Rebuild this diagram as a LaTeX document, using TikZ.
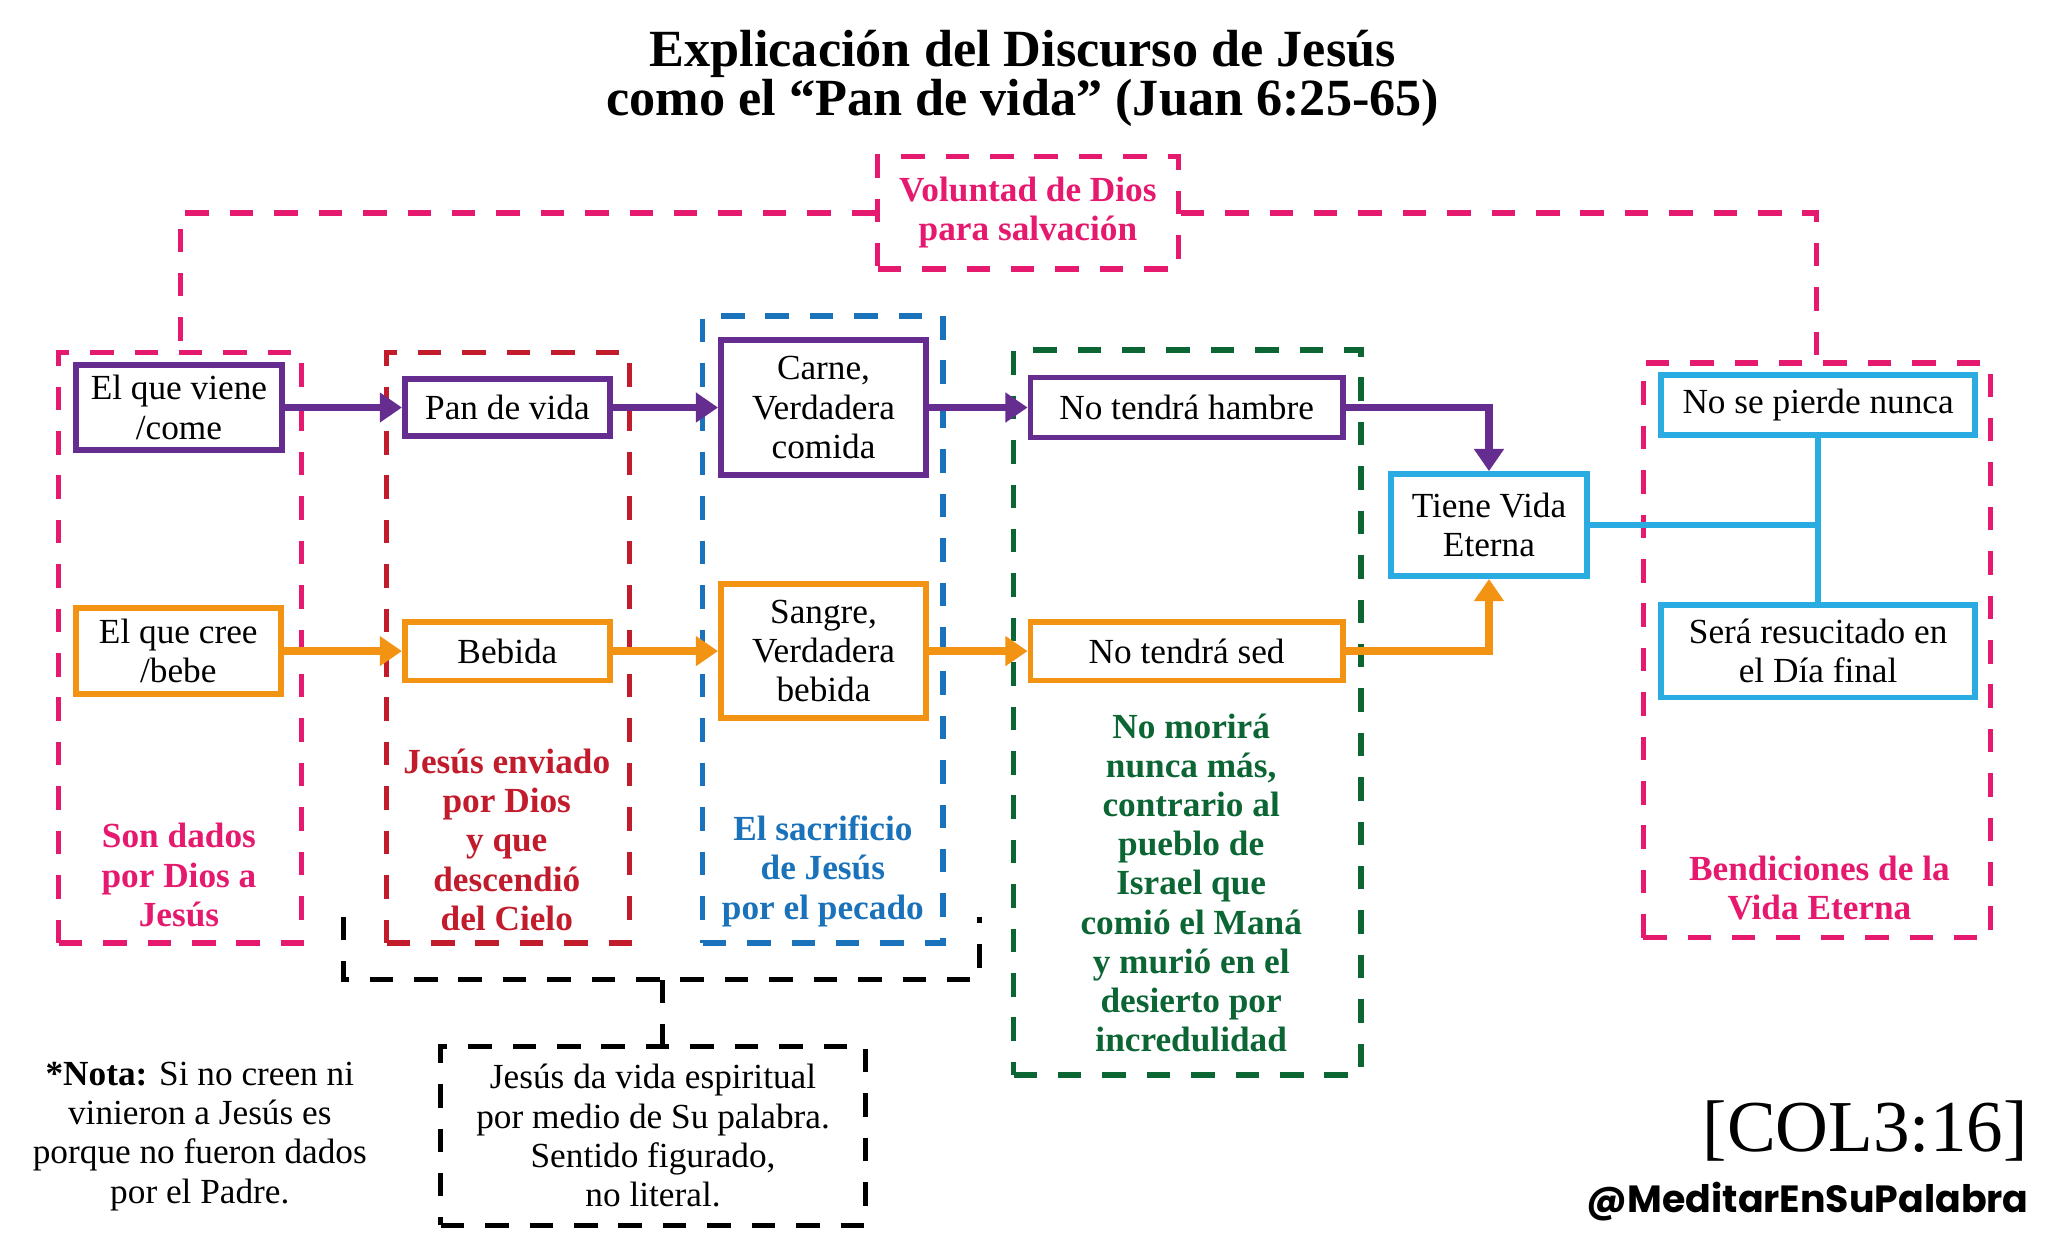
\documentclass[tikz,border=0pt]{standalone}
\usepackage{fontspec}
\setmainfont{Liberation Serif}
\newfontfamily\handlefont{Poppins}
\usetikzlibrary{arrows.meta}
\definecolor{cpink}{HTML}{E5196E}
\definecolor{cred}{HTML}{C11B2C}
\definecolor{cblue}{HTML}{1A72BA}
\definecolor{cgreen}{HTML}{0B6634}
\definecolor{cpurple}{HTML}{662D91}
\definecolor{corange}{HTML}{F39314}
\definecolor{csky}{HTML}{2AACE2}
\tikzset{
  box/.style={draw=#1, line width=4.5pt, fill=white, text=black, inner sep=0pt, align=center,
    font=\fontsize{27}{30}\selectfont},
  grp/.style={draw=#1, line width=4pt, dash pattern=on 18pt off 16pt, inner sep=0pt},
  dline/.style={line width=4pt, dash pattern=on 18pt off 16pt},
  lbl/.style={align=center, inner sep=0pt, font=\fontsize{27}{30}\selectfont\bfseries},
  txt/.style={align=center, inner sep=0pt, font=\fontsize{27}{30}\selectfont},
  arr/.style={line width=6pt, -{Triangle[length=17pt,width=22pt]}},
  link/.style={line width=4.5pt, csky}
}
\begin{document}
\begin{tikzpicture}[x=1pt,y=-1pt]
\useasboundingbox[fill=white] (0,0) rectangle (1568,952);

% title
\node[align=center, inner sep=0pt, font=\fontsize{40}{38}\selectfont\bfseries] (title) at (783,60)
  {Explicación del Discurso de Jesús\\como el “Pan de vida” (Juan 6:25-65)};

% group dashed boxes
\node[grp=cpink, minimum width=186pt, minimum height=452pt] (g1) at (138,496) {};
\node[grp=cred, minimum width=186pt, minimum height=452pt] (g2) at (389,496) {};
\node[grp=cblue, minimum width=184pt, minimum height=480pt] (g3) at (630,482) {};
\node[grp=cgreen, minimum width=266pt, minimum height=555pt] (g4) at (909,545.5) {};
\node[grp=cpink, minimum width=266pt, minimum height=440pt] (g5) at (1391,498) {};
\node[grp=cpink, minimum width=230pt, minimum height=86pt, lbl, text=cpink] (vol) at (787,163)
  {Voluntad de Dios\\para salvación};

\draw[dline, cpink] (vol.west) -| (g1.north);
\draw[dline, cpink] (vol.east) -| (g5.north);

% bracket and note box
\coordinate (bl) at (263,702);
\coordinate (br) at (750,702);
\coordinate (bm) at (507,750);
\draw[dline, black] (bl) |- (bm) -| (br);
\node[grp=black, minimum width=325pt, minimum height=137pt, txt] (fig) at (500,869.5)
  {Jesús da vida espiritual\\por medio de Su palabra.\\Sentido figurado,\\no literal.};
\draw[dline, black] (bm) -- (bm |- fig.north);

% group labels
\node[lbl, text=cpink] (l1) at (137,670) {Son dados\\por Dios a\\Jesús};
\node[lbl, text=cred] (l2) at (388,643) {Jesús enviado\\por Dios\\y que\\descendió\\del Cielo};
\node[lbl, text=cblue] (l3) at (630,667) {El sacrificio\\de Jesús\\por el pecado};
\node[lbl, text=cgreen] (l4) at (912,676) {No morirá\\nunca más,\\contrario al\\pueblo de\\Israel que\\comió el Maná\\y murió en el\\desierto por\\incredulidad};
\node[lbl, text=cpink] (l5) at (1393,680) {Bendiciones de la\\Vida Eterna};

% solid boxes
\node[box=cpurple, minimum width=158pt, minimum height=65pt] (viene) at (137,312) {El que viene\\/come};
\node[box=cpurple, minimum width=157pt, minimum height=44pt] (pan) at (388.5,312) {Pan de vida};
\node[box=cpurple, minimum width=157pt, minimum height=103pt] (carne) at (630.5,312) {Carne,\\Verdadera\\comida};
\node[box=cpurple, minimum width=239pt, minimum height=46pt] (hambre) at (908.5,312) {No tendrá hambre};

\node[box=corange, minimum width=157pt, minimum height=66pt] (cree) at (136.5,498.5) {El que cree\\/bebe};
\node[box=corange, minimum width=157pt, minimum height=45pt] (bebida) at (388.5,498.5) {Bebida};
\node[box=corange, minimum width=157pt, minimum height=103pt] (sangre) at (630.5,498.5) {Sangre,\\Verdadera\\bebida};
\node[box=corange, minimum width=239pt, minimum height=45pt] (sed) at (908.5,498.5) {No tendrá sed};

\node[box=csky, minimum width=150pt, minimum height=78pt] (tiene) at (1140,402) {Tiene Vida\\Eterna};
\node[box=csky, minimum width=240pt, minimum height=46pt] (pierde) at (1392,310) {No se pierde nunca};
\node[box=csky, minimum width=240pt, minimum height=71pt] (resuc) at (1392,498.5) {Será resucitado en\\el Día final};

% arrows
\draw[arr, cpurple] (viene.east) -- (pan.west);
\draw[arr, cpurple] (pan.east) -- (carne.west);
\draw[arr, cpurple] (carne.east) -- (hambre.west);
\draw[arr, cpurple] (hambre.east) -| (tiene.north);
\draw[arr, corange] (cree.east) -- (bebida.west);
\draw[arr, corange] (bebida.east) -- (sangre.west);
\draw[arr, corange] (sangre.east) -- (sed.west);
\draw[arr, corange] (sed.east) -| (tiene.south);

\draw[link] (pierde.south) -- (resuc.north);
\draw[link] (tiene.east) -- (tiene.east -| pierde.south);

% note and signature
\node[txt] (nota) at (153,870) {\textbf{*Nota:} Si no creen ni\\vinieron a Jesús es\\porque no fueron dados\\por el Padre.};
\node[inner sep=0pt, font=\fontsize{56}{56}\selectfont] (col) at (1428,866) {[COL3:16]};
\node[inner sep=0pt, font=\handlefont\bfseries\fontsize{29}{29}\selectfont] (handle) at (1384,920) {@MeditarEnSuPalabra};
\end{tikzpicture}
\end{document}
